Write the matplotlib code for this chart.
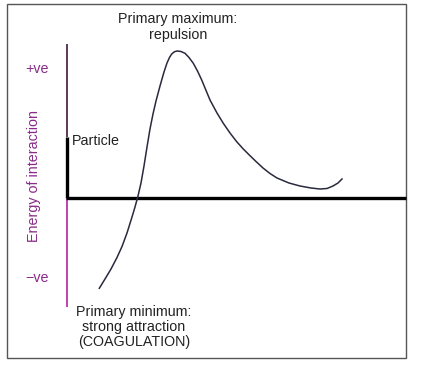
import matplotlib
matplotlib.use("Agg")
import matplotlib.pyplot as plt
from matplotlib.patches import Rectangle

plt.rcParams['font.family'] = ['Liberation Sans', 'DejaVu Sans']

# Separation distance (arbitrary units) and energy of interaction (arbitrary units)
distance = [32.3, 38, 44, 50, 55, 60, 65, 68, 71, 74, 77, 80, 83, 86, 89, 93, 97, 100,
            102.5, 104.7, 107.5, 110.3, 114, 118, 122, 126.3, 130.5, 134.7, 143, 150,
            156.3, 163, 169.7, 176, 182.3, 189, 196, 203, 210,
            222, 233, 244, 253, 260, 266, 271, 275]
energy = [-90.3, -81, -71, -59.5, -48.5, -35, -19, -9, 2, 15, 32, 51, 69, 84, 97, 112, 126, 135,
          140.5, 144, 146.3, 147, 146.5, 144.7, 140.5, 134.7, 127, 118, 98, 85,
          74.7, 65, 56.3, 49.3, 43, 36.5, 30, 24.5, 20,
          15, 12, 10, 9, 9.5, 12, 15, 19]

label_max = "Primary maximum:\nrepulsion"
label_min = "Primary minimum:\nstrong attraction\n(COAGULATION)"
label_y = "Energy of interaction"
label_pos = "+ve"
label_neg = "\u2212ve"
label_particle = "Particle"

purple = "#8a2a8a"

fig = plt.figure(figsize=(4.25, 3.69), dpi=100)
ax = fig.add_axes([0, 0, 1, 1])
ax.set_xlim(-67, 425 - 67)
ax.set_ylim(198 - 369, 198)
ax.axis('off')

# outer frame
ax.add_patch(Rectangle((7 - 67, 198 - 358), 399, 354, fill=False,
                       edgecolor="#555555", linewidth=1.0))

# axes lines
ax.plot([0, 0], [198 - 44, 198 - 137], color="#5a3a5a", lw=1.4, solid_capstyle='butt')
ax.plot([0, 0], [198 - 137, 0], color="black", lw=2.4, solid_capstyle='butt')
ax.plot([0, 0], [0, 198 - 307], color="#c040b0", lw=1.4, solid_capstyle='butt')
ax.plot([-1, 406 - 67], [0, 0], color="black", lw=2.4, solid_capstyle='butt')

# curve
ax.plot(distance, energy, color="#2a2a3e", lw=1.1, solid_joinstyle='round')

fs = 10.3
ax.text(178 - 67, 198 - 27, label_max, ha='center', va='center', fontsize=fs,
        color="#222222", linespacing=1.12)
ax.text(134 - 67, 198 - 327, label_min, ha='center', va='center', fontsize=fs,
        color="#222222", linespacing=1.12)
ax.text(37 - 67, 198 - 69, label_pos, ha='center', va='center', fontsize=fs, color=purple)
ax.text(37 - 67, 198 - 278, label_neg, ha='center', va='center', fontsize=fs, color=purple)
ax.text(34 - 67, 198 - 176, label_y, ha='center', va='center', fontsize=fs,
        color=purple, rotation=90)
ax.text(72 - 67, 198 - 141, label_particle, ha='left', va='center', fontsize=fs,
        color="#222222")

fig.savefig("out.png", dpi=100)
